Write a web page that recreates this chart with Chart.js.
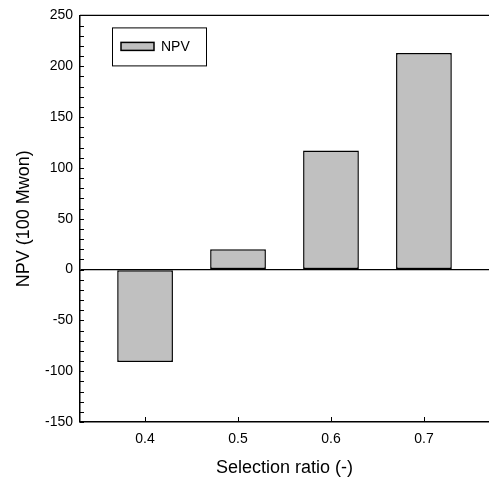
<!DOCTYPE html>
<html>
<head>
<meta charset="utf-8">
<script src="https://cdn.jsdelivr.net/npm/chart.js@4.4.1/dist/chart.umd.min.js"></script>
<style>
  html, body { margin: 0; padding: 0; background: #fff; }
  #wrap { width: 489px; height: 479px; }
</style>
</head>
<body>
<div id="wrap"><canvas id="npvChart"></canvas></div>
<script>
// data
const ratios = [0.4, 0.5, 0.6, 0.7];
const npv = [-91, 20, 117, 213];
const xTicks = [0.4, 0.5, 0.6, 0.7];
const yTicks = [-150, -100, -50, 0, 50, 100, 150, 200, 250];
const yMinorStep = 10;

const FONT = "'Liberation Sans', Arial, sans-serif";

// inward ticks, top frame line and the boxed legend
const framePlugin = {
  id: 'frame',
  afterDraw(chart) {
    const ctx = chart.ctx;
    const area = chart.chartArea;
    const xs = chart.scales.x;
    const ys = chart.scales.y;
    ctx.save();
    ctx.strokeStyle = '#000';
    ctx.lineWidth = 1.2;

    // top frame
    ctx.beginPath();
    ctx.moveTo(area.left, area.top);
    ctx.lineTo(area.right, area.top);
    ctx.stroke();

    // y minor/major ticks pointing into the plot
    ctx.lineWidth = 1;
    for (let v = ys.min; v <= ys.max; v += yMinorStep) {
      const py = Math.round(ys.getPixelForValue(v)) + 0.5;
      ctx.beginPath();
      ctx.moveTo(area.left, py);
      ctx.lineTo(area.left + 4, py);
      ctx.stroke();
    }
    // x ticks pointing up
    xTicks.forEach(v => {
      const px = Math.round(xs.getPixelForValue(v)) + 0.5;
      ctx.beginPath();
      ctx.moveTo(px, area.bottom);
      ctx.lineTo(px, area.bottom - 5);
      ctx.stroke();
    });

    // legend
    const ds = chart.data.datasets[0];
    const lx = area.left + 32, ly = area.top + 12;
    ctx.lineWidth = 1;
    ctx.strokeRect(lx + 0.5, ly + 0.5, 94, 38);
    ctx.fillStyle = ds.backgroundColor;
    ctx.fillRect(lx + 9, ly + 15, 33, 8);
    ctx.lineWidth = 1.5;
    ctx.strokeRect(lx + 9, ly + 15, 33, 8);
    ctx.fillStyle = '#000';
    ctx.font = '14px ' + FONT;
    ctx.textBaseline = 'middle';
    ctx.fillText(ds.label, lx + 49, ly + 20);
    ctx.restore();
  }
};

new Chart(document.getElementById('npvChart'), {
  type: 'bar',
  data: {
    datasets: [{
      label: 'NPV',
      data: ratios.map((r, i) => ({ x: r, y: npv[i] })),
      backgroundColor: '#c0c0c0',
      borderColor: '#000',
      borderWidth: 1.5,
      borderSkipped: false,
      barPercentage: 0.6,
      categoryPercentage: 1
    }]
  },
  options: {
    responsive: true,
    maintainAspectRatio: false,
    animation: false,
    layout: { padding: { top: 10, right: 0, bottom: 0, left: 0 } },
    plugins: {
      legend: { display: false },
      tooltip: { enabled: false }
    },
    scales: {
      x: {
        type: 'linear',
        min: 0.33,
        max: 0.77,
        offset: false,
        afterBuildTicks: s => { s.ticks = xTicks.map(v => ({ value: v })); },
        afterFit: s => { s.height = 57; },
        grid: { display: false, offset: false },
        border: { display: true, color: '#000', width: 1.5 },
        ticks: {
          color: '#000',
          padding: 1,
          font: { family: FONT, size: 14 },
          callback: v => v.toFixed(1)
        },
        title: {
          display: true,
          text: 'Selection ratio (-)',
          color: '#000',
          font: { family: FONT, size: 18 },
          padding: { top: 0, bottom: 0 }
        }
      },
      y: {
        min: -150,
        max: 250,
        afterBuildTicks: s => { s.ticks = yTicks.map(v => ({ value: v })); },
        afterFit: s => { s.width = 80; },
        grid: {
          drawTicks: false,
          color: c => (c.tick && c.tick.value === 0 ? '#000' : 'rgba(0,0,0,0)'),
          lineWidth: 1.2
        },
        border: { display: true, color: '#000', width: 1.5 },
        ticks: {
          color: '#000',
          padding: 7,
          font: { family: FONT, size: 14 }
        },
        title: {
          display: true,
          text: 'NPV (100 Mwon)',
          color: '#000',
          font: { family: FONT, size: 18 },
          padding: { top: 13, bottom: 0 }
        }
      }
    }
  },
  plugins: [framePlugin]
});
</script>
</body>
</html>
